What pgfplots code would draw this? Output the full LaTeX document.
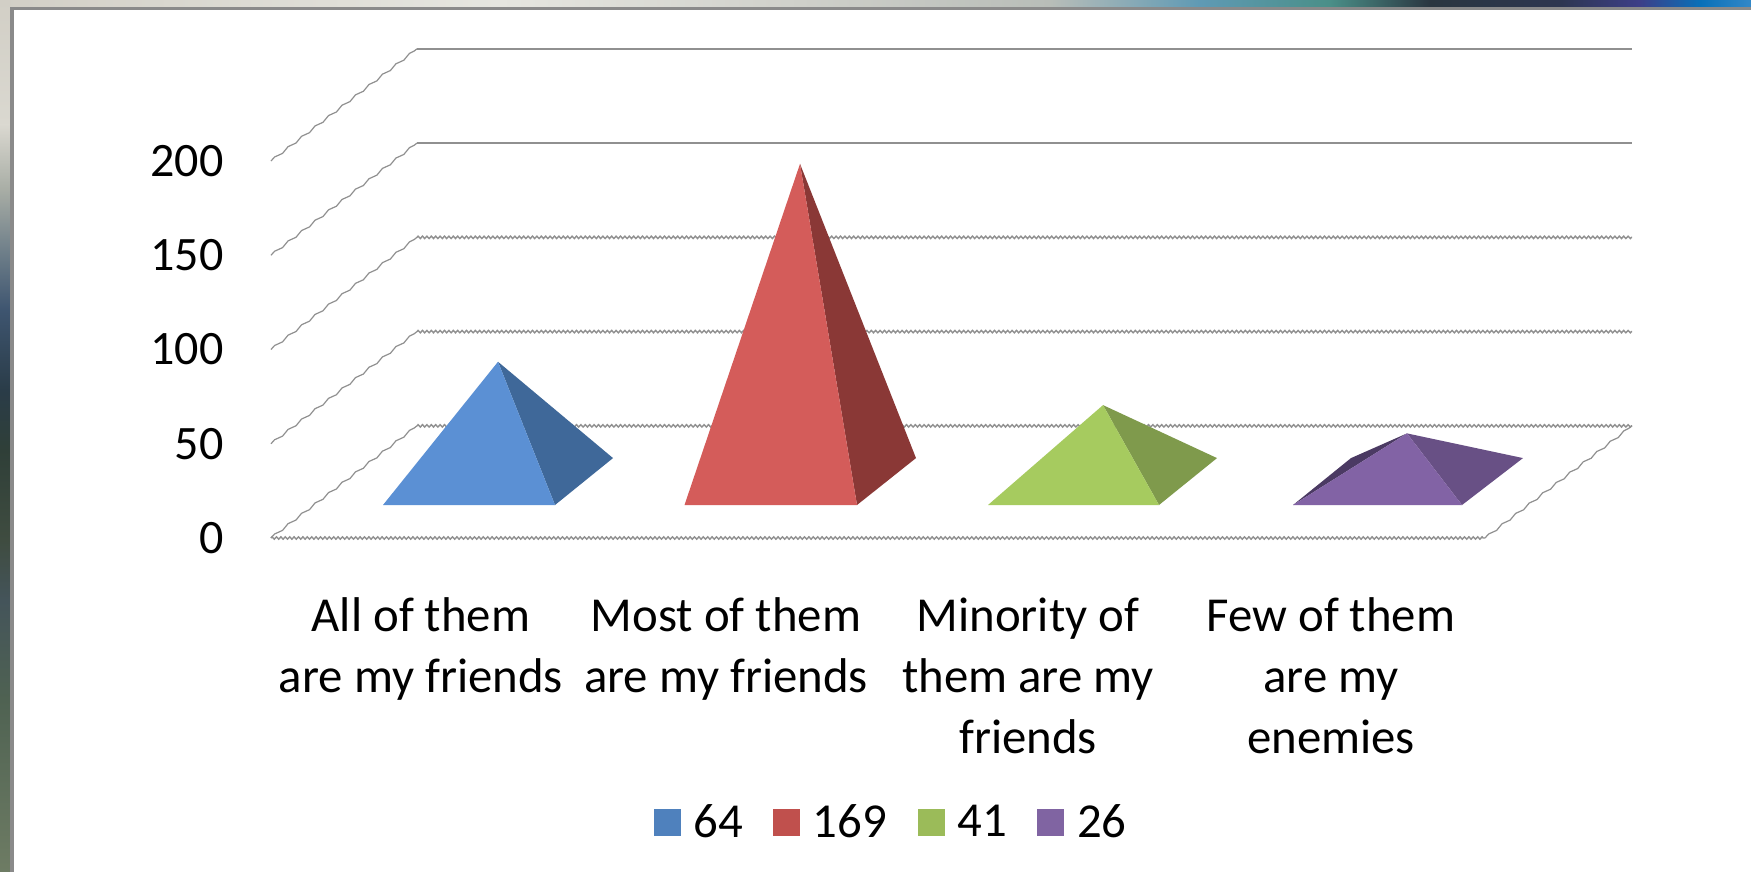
\documentclass[border=0pt]{standalone}
\usepackage{pgfplots}
\pgfplotsset{compat=1.18}
\usepackage{fontspec}
\setmainfont{Carlito}
\usetikzlibrary{decorations.pathmorphing}
\definecolor{bluef}{HTML}{5B90D4}\definecolor{blued}{HTML}{3F6899}
\definecolor{redf}{HTML}{D45C5A}\definecolor{redd}{HTML}{8A3836}
\definecolor{greenf}{HTML}{A6CB5F}\definecolor{greend}{HTML}{7F9A4C}
\definecolor{purplef}{HTML}{8263A5}\definecolor{purpled}{HTML}{685085}
\definecolor{purples}{HTML}{4B3A63}
\definecolor{legblue}{HTML}{4F81BD}\definecolor{legred}{HTML}{C0504D}
\definecolor{leggreen}{HTML}{9BBB59}\definecolor{legpurple}{HTML}{8064A2}
\definecolor{gridc}{HTML}{909090}
\definecolor{framec}{HTML}{8A8A8A}
\newcommand\vseg[4]{\definecolor{ca}{HTML}{#3}\definecolor{cb}{HTML}{#4}\shade[top color=ca,bottom color=cb] (0,#1) rectangle (10,#2);}
\newcommand\hseg[4]{\definecolor{ca}{HTML}{#3}\definecolor{cb}{HTML}{#4}\shade[left color=ca,right color=cb] (#1,0) rectangle (#2,7);}
\tikzset{zig/.style={decorate,decoration={zigzag,amplitude=0.6pt,segment length=2.2pt}},
 wob/.style={decorate,decoration={snake,amplitude=0.5pt,segment length=8.5pt}}}
\begin{document}
\begin{tikzpicture}
\begin{scope}[x=0.5pt,y=-0.5pt]
\fill[white] (0,0) rectangle (1751,872);
\hseg{0}{500}{D2CFC6}{E6E6E0}
\hseg{500}{800}{E6E6E0}{CFD0CA}
\hseg{800}{1050}{CFD0CA}{B8BDB8}
\hseg{1050}{1200}{B8BDB8}{5F9AB4}
\hseg{1200}{1330}{5F9AB4}{4A8F88}
\hseg{1330}{1430}{4A8F88}{2A3640}
\hseg{1430}{1560}{2A3640}{2D3650}
\hseg{1560}{1640}{2D3650}{3D3F88}
\hseg{1640}{1700}{3D3F88}{0870B8}
\hseg{1700}{1751}{0870B8}{3388C8}
\vseg{0}{125}{D2CFC6}{DAD8D0}
\vseg{125}{190}{DAD8D0}{A8ADA5}
\vseg{190}{250}{A8ADA5}{70808A}
\vseg{250}{310}{70808A}{3E5570}
\vseg{310}{390}{3E5570}{2A3C48}
\vseg{390}{450}{2A3C48}{2F3F38}
\vseg{450}{540}{2F3F38}{3F4C40}
\vseg{540}{600}{3F4C40}{44545A}
\vseg{600}{700}{44545A}{4F6252}
\vseg{700}{872}{4F6252}{6E7C64}
\fill[framec] (10,7) rectangle (1751,10);
\fill[framec] (10,7) rectangle (13.5,872);
\end{scope}
\begin{axis}[
  at={(135.5pt,-269pt)}, anchor=south west,
  scale only axis, width=607pt, height=188.5pt,
  xmin=271, xmax=1485, ymin=0, ymax=200,
  clip=false,
  axis line style={draw=none},
  tick style={draw=none},
  major tick length=0pt,
  ytick={0,50,100,150,200},
  yticklabel style={/pgf/number format/assume math mode=true,font=\fontsize{24}{30}\selectfont,anchor=east,xshift=-23.5pt,inner xsep=0pt},
  xtick={421,726,1028,1331},
  xticklabels={{All of them\\are my friends},{Most of them\\are my friends},{Minority of\\them are my\\friends},{Few of them\\are my\\enemies}},
  xticklabel style={font=\fontsize{24.4}{30.5}\selectfont,align=center,anchor=north,yshift=-29.6pt,inner ysep=0pt},
  legend columns=4,
  legend image code/.code={\fill[#1] (0pt,-6.75pt) rectangle (13.5pt,6.75pt);},
  legend style={at={(axis cs:892,-150.9)},anchor=center,draw=none,fill=none,
    font=\fontsize{24.4}{30}\selectfont,inner sep=0pt,
    /tikz/every odd column/.append style={column sep=4.4pt},
    /tikz/every even column/.append style={column sep=13.2pt}},
]
% walls and floor (value lines at the back, with the depth offset of 59.5 units)
\addplot[gridc,line width=0.6pt,wob,forget plot] coordinates {(271,0) (417,59.5)};
\addplot[gridc,line width=0.6pt,wob,forget plot] coordinates {(271,50) (417,109.5)};
\addplot[gridc,line width=0.6pt,wob,forget plot] coordinates {(271,100) (417,159.5)};
\addplot[gridc,line width=0.6pt,wob,forget plot] coordinates {(271,150) (417,209.5)};
\addplot[gridc,line width=0.6pt,wob,forget plot] coordinates {(271,200) (417,259.5)};
\addplot[gridc,line width=0.6pt,wob,forget plot] coordinates {(1485,0) (1632,59.5)};
\addplot[gridc,line width=0.7pt,zig,forget plot] coordinates {(271,0) (1485,0)};
\addplot[gridc,line width=0.7pt,zig,forget plot] coordinates {(417,59.5) (1632,59.5)};
\addplot[gridc,line width=0.7pt,zig,forget plot] coordinates {(417,109.5) (1632,109.5)};
\addplot[gridc,line width=0.7pt,zig,forget plot] coordinates {(417,159.5) (1632,159.5)};
\addplot[gridc,line width=1pt,forget plot] coordinates {(417,209.5) (1632,209.5)};
\addplot[gridc,line width=1pt,forget plot] coordinates {(417,259.5) (1632,259.5)};
% pyramids: apex height = base centre (29.5) + value
\addplot[fill=blued,draw=none,forget plot] coordinates {(555,17.5) (613,42.4) (498,93.5)};
\addplot[fill=bluef,draw=none,forget plot] coordinates {(383,17.5) (555,17.5) (498,93.5)};
\addplot[fill=redd,draw=none,forget plot] coordinates {(857,17.5) (916,42.4) (800,198.5)};
\addplot[fill=redf,draw=none,forget plot] coordinates {(684.5,17.5) (857,17.5) (800,198.5)};
\addplot[fill=greend,draw=none,forget plot] coordinates {(1159,17.5) (1217,42.4) (1103,70.5)};
\addplot[fill=greenf,draw=none,forget plot] coordinates {(988,17.5) (1159,17.5) (1103,70.5)};
\addplot[fill=purples,draw=none,forget plot] coordinates {(1293,17.5) (1351,42.4) (1407,55.5)};
\addplot[fill=purpled,draw=none,forget plot] coordinates {(1462,17.5) (1523,42.4) (1407,55.5)};
\addplot[fill=purplef,draw=none,forget plot] coordinates {(1293,17.5) (1462,17.5) (1407,55.5)};
\addlegendimage{fill=legblue,draw=none}
\addlegendimage{fill=legred,draw=none}
\addlegendimage{fill=leggreen,draw=none}
\addlegendimage{fill=legpurple,draw=none}
\legend{64,169,41,26}
\end{axis}
\end{tikzpicture}
\end{document}
